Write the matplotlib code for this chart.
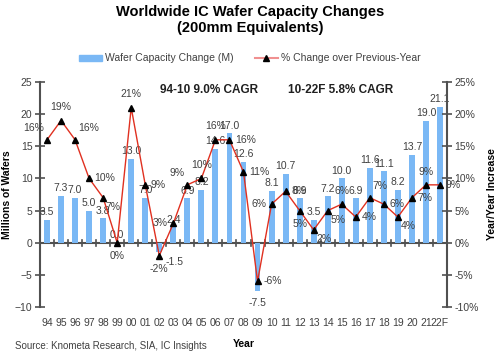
import numpy as np
import matplotlib.pyplot as plt
from matplotlib.lines import Line2D
from matplotlib.patches import Patch

plt.rcParams['font.family'] = ['Liberation Sans', 'DejaVu Sans']

years = ['94', '95', '96', '97', '98', '99', '00', '01', '02', '03', '04', '05', '06', '07',
         '08', '09', '10', '11', '12', '13', '14', '15', '16', '17', '18', '19', '20', '21', '22F']
capacity = [3.5, 7.3, 7.0, 5.0, 3.8, 0.0, 13.0, 7.0, -1.5, 2.4, 6.9, 8.2, 14.6, 17.0,
            12.6, -7.5, 8.1, 10.7, 6.9, 3.5, 7.2, 10.0, 6.9, 11.6, 11.1, 8.2, 13.7, 19.0, 21.1]
pct = [16, 19, 16, 10, 7, 0, 21, 9, -2, 3, 9, 10, 16, 16,
       11, -6, 6, 8, 5, 2, 5, 6, 4, 7, 6, 4, 7, 9, 9]

# where each % label sits relative to its marker
pct_pos = ['al', 'a', 'ar', 'r', 'br', 'b', 'a', 'r', 'b', 'l', 'al', 'a', 'a', 'r',
           'r', 'r', 'l', 'r', 'b', 'br', 'br', 'a', 'r', 'ar', 'r', 'br', 'r', 'a', 'r']
offsets = {'a': (0, 6, 'center', 'bottom'), 'b': (0, -6, 'center', 'top'),
           'l': (-4, 0, 'right', 'center'), 'r': (4, 0, 'left', 'center'),
           'al': (-2, 5, 'right', 'bottom'), 'ar': (2, 5, 'left', 'bottom'),
           'br': (2, -3, 'left', 'top')}

txt = '#404040'
x = np.arange(len(years))

fig = plt.figure(figsize=(5, 3.53), dpi=100)
ax = fig.add_axes([0.08, 0.13, 0.814, 0.638])
ax2 = ax.twinx()

ax.bar(x, capacity, width=0.42, color='#7ab8f5', zorder=2)
ax2.plot(x, pct, color='#e03020', lw=1.0, marker='^', ms=5,
         mfc='black', mec='black', zorder=3)

ax.set_xlim(-0.5, len(years) - 0.5)
ax.set_ylim(-10, 25)
ax2.set_ylim(-10, 25)
ax.set_yticks(range(-10, 26, 5))
ax2.set_yticks(range(-10, 26, 5))
ax2.set_yticklabels([f'{v}%' for v in range(-10, 26, 5)])

for a in (ax, ax2):
    for s in ('top', 'bottom'):
        a.spines[s].set_visible(False)
    for s in ('left', 'right'):
        a.spines[s].set_color('#505050')
        a.spines[s].set_linewidth(1.5)
    a.tick_params(axis='y', direction='inout', length=7, width=1.2, color='#505050',
                  labelsize=7.5, labelcolor=txt, pad=2)
ax2.spines['left'].set_visible(False)
ax.spines['right'].set_visible(False)

# zero line with tick marks between categories
ax.axhline(0, color='#505050', lw=1.5, zorder=1)
for xi in np.arange(0.5, len(years) - 1, 1):
    ax.plot([xi, xi], [-0.5, 0.5], color='#505050', lw=1.2, zorder=1)

ax.set_xticks(x)
ax.set_xticklabels(years)
ax.tick_params(axis='x', length=0, labelsize=7.5, labelcolor=txt, pad=8)

for xi, v in zip(x, capacity):
    if v < 0:
        dx = 1.1 if xi == 8 else 0
        ax.annotate(f'{v:.1f}', (xi + dx, v), xytext=(0, -3 if xi == 8 else -5),
                    textcoords='offset points', ha='center', va='top', fontsize=7.5, color=txt)
    else:
        ax.annotate(f'{v:.1f}', (xi, v), xytext=(0, 2), textcoords='offset points',
                    ha='center', va='bottom', fontsize=7.5, color=txt)

for xi, v, p in zip(x, pct, pct_pos):
    dx, dy, ha, va = offsets[p]
    ax2.annotate(f'{v}%', (xi, v), xytext=(dx, dy), textcoords='offset points',
                 ha=ha, va=va, fontsize=7.5, color=txt)

ax.text(0.295, 0.99, '94-10 9.0% CAGR', transform=ax.transAxes, ha='left', va='top',
        fontsize=8.5, fontweight='bold', color='#202020')
ax.text(0.61, 0.99, '10-22F 5.8% CAGR', transform=ax.transAxes, ha='left', va='top',
        fontsize=8.5, fontweight='bold', color='#202020')

ax.set_ylabel('Millions of Wafers', fontsize=7.5, fontweight='bold', labelpad=2)
ax2.set_ylabel('Year/Year Increase', fontsize=7.5, fontweight='bold', labelpad=6)
ax.set_xlabel('Year', fontsize=7.5, fontweight='bold', labelpad=8)

fig.suptitle('Worldwide IC Wafer Capacity Changes\n(200mm Equivalents)', y=0.985,
             fontsize=10.5, fontweight='bold', linespacing=1.15)

handles = [Patch(color='#7ab8f5'),
           Line2D([], [], color='#f09090', marker='^', mfc='black', mec='black', ms=5)]
fig.legend(handles, ['Wafer Capacity Change (M)', '% Change over Previous-Year'],
           loc='center', bbox_to_anchor=(0.5, 0.835), ncol=2, frameon=False,
           fontsize=7.5, handlelength=2.2, handleheight=0.5, columnspacing=2.0,
           handletextpad=0.3, labelcolor=txt)

fig.text(0.03, 0.012, 'Source: Knometa Research, SIA, IC Insights', fontsize=7, color=txt)

fig.savefig('out.png', dpi=100)
